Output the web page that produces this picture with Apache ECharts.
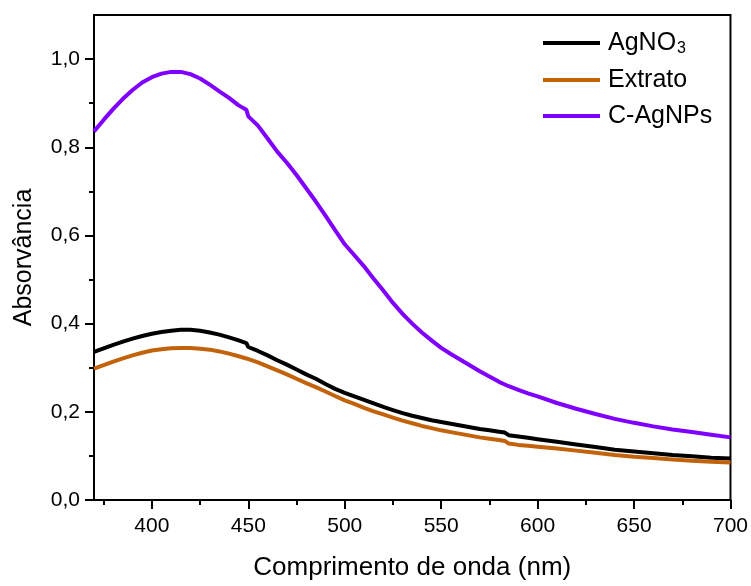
<!DOCTYPE html>
<html>
<head>
<meta charset="utf-8">
<script src="https://cdn.jsdelivr.net/npm/echarts@6/dist/echarts.min.js"></script>
<style>
  html, body { margin: 0; padding: 0; background: #fff; }
  #chart { width: 751px; height: 586px; }
</style>
</head>
<body>
<div id="chart"></div>
<script>
// UV-Vis spectra: wavelength (nm) and absorbance for each sample
const wavelengths = [370, 375, 380, 385, 390, 395, 400, 405, 410, 415, 420, 425, 430, 435, 440, 445, 449, 450, 455, 460, 465, 470, 475, 480, 485, 490, 495, 500, 505, 510, 515, 520, 525, 530, 535, 540, 545, 550, 555, 560, 565, 570, 575, 580, 583, 585, 590, 595, 600, 610, 620, 630, 640, 650, 660, 670, 680, 690, 700];

const agno3 = [0.336, 0.344, 0.352, 0.359, 0.366, 0.372, 0.377, 0.381, 0.384, 0.386, 0.386, 0.384, 0.380, 0.375, 0.369, 0.362, 0.356, 0.347, 0.338, 0.328, 0.317, 0.307, 0.296, 0.285, 0.275, 0.263, 0.252, 0.243, 0.235, 0.227, 0.219, 0.211, 0.204, 0.197, 0.191, 0.186, 0.181, 0.177, 0.173, 0.169, 0.165, 0.161, 0.158, 0.155, 0.153, 0.147, 0.144, 0.141, 0.138, 0.132, 0.126, 0.120, 0.114, 0.110, 0.106, 0.102, 0.099, 0.096, 0.094];

const extrato = [0.298, 0.306, 0.314, 0.321, 0.328, 0.334, 0.339, 0.342, 0.344, 0.345, 0.345, 0.343, 0.341, 0.337, 0.332, 0.326, 0.321, 0.320, 0.312, 0.303, 0.294, 0.285, 0.275, 0.265, 0.256, 0.246, 0.236, 0.226, 0.218, 0.209, 0.201, 0.194, 0.187, 0.180, 0.174, 0.168, 0.163, 0.158, 0.154, 0.150, 0.146, 0.142, 0.139, 0.136, 0.134, 0.128, 0.125, 0.123, 0.121, 0.117, 0.112, 0.107, 0.102, 0.098, 0.095, 0.092, 0.089, 0.087, 0.085];

const cAgNPs = [0.836, 0.862, 0.887, 0.910, 0.930, 0.947, 0.959, 0.967, 0.971, 0.971, 0.966, 0.956, 0.942, 0.927, 0.912, 0.895, 0.885, 0.870, 0.849, 0.820, 0.790, 0.765, 0.737, 0.707, 0.677, 0.645, 0.612, 0.580, 0.555, 0.530, 0.502, 0.475, 0.447, 0.422, 0.400, 0.380, 0.362, 0.345, 0.331, 0.318, 0.305, 0.292, 0.280, 0.268, 0.262, 0.258, 0.250, 0.242, 0.235, 0.220, 0.207, 0.195, 0.184, 0.175, 0.167, 0.160, 0.154, 0.148, 0.142];

// Tick positions
const xMajorTicks = [400, 450, 500, 550, 600, 650, 700];
const xMinorTicks = [375, 425, 475, 525, 575, 625, 675];
const yMajorTicks = [0, 0.2, 0.4, 0.6, 0.8, 1.0];
const yMinorTicks = [0.1, 0.3, 0.5, 0.7, 0.9];

const seriesNames = ['AgNO3', 'Extrato', 'C-AgNPs'];
const seriesColors = ['#000000', '#C2620A', '#7F00FF'];
const seriesValues = [agno3, extrato, cAgNPs];

const font = '"Liberation Sans", Arial, sans-serif';
const X_MIN = 370, X_MAX = 700, Y_MIN = 0, Y_MAX = 1.1;

const chart = echarts.init(document.getElementById('chart'), null, { renderer: 'canvas' });

const series = seriesNames.map((name, i) => ({
  name: name,
  type: 'line',
  xAxisIndex: 0,
  yAxisIndex: 0,
  showSymbol: false,
  symbol: 'none',
  lineStyle: { color: seriesColors[i], width: 4 },
  itemStyle: { color: seriesColors[i] },
  data: wavelengths.map((w, j) => [w, seriesValues[i][j]]),
  z: 3 + i
}));

const decimalComma = v => v.toFixed(1).replace('.', ',');

const tickLine = { color: '#000', width: 2 };

chart.setOption({
  animation: false,
  backgroundColor: '#ffffff',
  grid: {
    left: 94, right: 18, top: 15, bottom: 81,
    show: true, borderColor: '#000', borderWidth: 2, backgroundColor: 'transparent'
  },
  legend: {
    orient: 'vertical',
    left: 538,
    top: 24,
    icon: 'rect',
    itemWidth: 57,
    itemHeight: 4,
    itemGap: 10,
    data: seriesNames,
    textStyle: {
      fontFamily: font,
      fontSize: 25,
      color: '#000',
      lineHeight: 26,
      padding: [0, 0, 0, 3],
      rich: {
        sub: { fontFamily: font, fontSize: 16, color: '#000', lineHeight: 26, padding: [12, 0, 0, 1] }
      }
    },
    formatter: name => name === 'AgNO3' ? 'AgNO{sub|3}' : name
  },
  xAxis: [
    {
      type: 'value',
      min: X_MIN,
      max: X_MAX,
      name: 'Comprimento de onda (nm)',
      nameLocation: 'middle',
      nameGap: 55,
      nameTextStyle: { fontFamily: font, fontSize: 26, color: '#000' },
      axisLine: { show: true, onZero: false, lineStyle: { color: '#000', width: 2 } },
      axisTick: { show: true, inside: false, length: 9, customValues: xMajorTicks, lineStyle: tickLine },
      axisLabel: {
        fontFamily: font, fontSize: 21, color: '#000', margin: 16,
        customValues: xMajorTicks,
        formatter: v => String(v)
      },
      splitLine: { show: false }
    },
    {
      type: 'value',
      min: X_MIN,
      max: X_MAX,
      position: 'bottom',
      axisLine: { show: false, onZero: false },
      axisTick: { show: true, inside: false, length: 5, customValues: xMinorTicks, lineStyle: tickLine },
      axisLabel: { show: false },
      splitLine: { show: false }
    }
  ],
  yAxis: [
    {
      type: 'value',
      min: Y_MIN,
      max: Y_MAX,
      name: 'Absorvância',
      nameLocation: 'middle',
      nameGap: 57,
      nameTextStyle: { fontFamily: font, fontSize: 25, color: '#000' },
      axisLine: { show: true, lineStyle: { color: '#000', width: 2 } },
      axisTick: { show: true, inside: false, length: 9, customValues: yMajorTicks, lineStyle: tickLine },
      axisLabel: {
        fontFamily: font, fontSize: 21, color: '#000', margin: 14,
        customValues: yMajorTicks,
        formatter: v => decimalComma(v)
      },
      splitLine: { show: false }
    },
    {
      type: 'value',
      min: Y_MIN,
      max: Y_MAX,
      position: 'left',
      axisLine: { show: false },
      axisTick: { show: true, inside: false, length: 5, customValues: yMinorTicks, lineStyle: tickLine },
      axisLabel: { show: false },
      splitLine: { show: false }
    }
  ],
  series: series
});
</script>
</body>
</html>
